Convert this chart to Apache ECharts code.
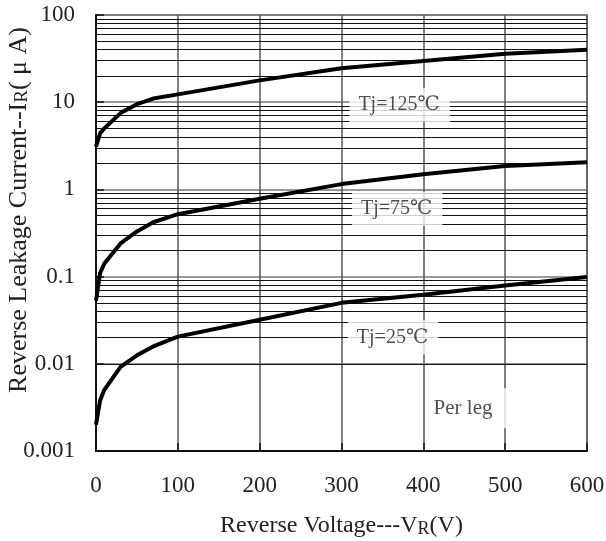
<!DOCTYPE html>
<html>
<head>
<meta charset="utf-8">
<script src="https://cdn.jsdelivr.net/npm/echarts@6/dist/echarts.min.js"></script>
<style>
html,body{margin:0;padding:0;background:#fff;}
#c{width:606px;height:541px;}
</style>
</head>
<body>
<div id="c"></div>
<script>
// Reverse voltage (V)
const voltage = [0, 5, 10, 30, 50, 70, 100, 200, 300, 400, 500, 600];
// Reverse leakage current (uA)
const tj125 = [3.1, 4.4, 5.0, 7.5, 9.5, 11.0, 12.3, 17.8, 24.5, 29.7, 36, 40];
const tj75  = [0.053, 0.11, 0.14, 0.24, 0.33, 0.42, 0.52, 0.78, 1.15, 1.49, 1.86, 2.05];
const tj25  = [0.002, 0.0038, 0.005, 0.0092, 0.0125, 0.0158, 0.0205, 0.032, 0.050, 0.062, 0.079, 0.099];
const xTicks = [0, 100, 200, 300, 400, 500, 600];
const yTicks = [0.001, 0.01, 0.1, 1, 10, 100];
// minor gridline values inside each decade
const minorMult = [2, 3, 4, 5, 6, 7, 8, 9];
// annotation texts and anchor (voltage, current)
const notes = [
  {text: 'Tj=125\u2103', v: 371, i: 9.3},
  {text: 'Tj=75\u2103', v: 368, i: 0.6},
  {text: 'Tj=25\u2103', v: 363, i: 0.0201},
  {text: 'Per leg', v: 462, i: 0.0031}
];

const font = '"Liberation Serif","DejaVu Serif",serif';
const minorVals = [];
for (let d = 0; d < yTicks.length - 1; d++) {
  minorMult.forEach(m => minorVals.push(+(yTicks[d] * m).toPrecision(3)));
}
const pair = arr => voltage.map((v, k) => [v, arr[k]]);
const curveStyle = {color: '#000', width: 4};

const chart = echarts.init(document.getElementById('c'));
chart.setOption({
  animation: false,
  grid: {left: 96, right: 19, top: 15, bottom: 90, containLabel: false, outerBoundsMode: 'none',
    show: true, borderColor: '#999', borderWidth: 2},
  xAxis: {
    type: 'value', min: 0, max: 600, interval: 100,
    name: 'Reverse Voltage---V{s|R}(V)', nameLocation: 'middle', nameGap: 62, nameMoveOverlap: false,
    nameTextStyle: {fontFamily: font, fontSize: 24, color: '#222',
      rich: {s: {fontFamily: font, fontSize: 18, color: '#222', padding: [7, 0, 0, 0]}}},
    axisLine: {show: true, lineStyle: {color: '#111', width: 2}},
    axisTick: {show: true, inside: true, length: 8, lineStyle: {color: '#111', width: 1.5}},
    axisLabel: {fontFamily: font, fontSize: 23, color: '#222', margin: 23},
    splitLine: {show: true, lineStyle: {color: '#555', width: 1.5}}
  },
  yAxis: {
    type: 'log', logBase: 10, min: 0.001, max: 100,
    name: 'Reverse Leakage Current--I{s|R}( \u03bc A)', nameLocation: 'middle', nameGap: 64,
    nameMoveOverlap: false,
    nameTextStyle: {fontFamily: font, fontSize: 26, color: '#222', padding: [0, 0, 0, 46],
      rich: {s: {fontFamily: font, fontSize: 19, color: '#222', padding: [7, 0, 0, 0]}}},
    axisLine: {show: true, lineStyle: {color: '#111', width: 2}},
    axisTick: {show: true, inside: true, length: 8, lineStyle: {color: '#111', width: 1.5}},
    axisLabel: {fontFamily: font, fontSize: 23, color: '#222', margin: 21,
      formatter: v => String(+v.toPrecision(3))},
    splitLine: {show: true, lineStyle: {color: '#777', width: 1.5}}
  },
  series: [
    {
      type: 'line', data: [], silent: true,
      markLine: {
        silent: true, symbol: 'none', label: {show: false},
        lineStyle: {color: '#111', width: 1.2, type: 'solid'},
        data: minorVals.map(v => ({yAxis: v}))
      }
    },
    {type: 'line', data: pair(tj125), symbol: 'none', lineStyle: curveStyle, z: 5},
    {type: 'line', data: pair(tj75), symbol: 'none', lineStyle: curveStyle, z: 5},
    {type: 'line', data: pair(tj25), symbol: 'none', lineStyle: curveStyle, z: 5},
    {
      type: 'scatter', symbolSize: 0, z: 10, silent: true,
      data: notes.map((n, k) => ({value: [n.v, n.i],
        label: k === 3 ? {formatter: n.text, fontSize: 21, padding: [10, 28, 9, 6]} : {formatter: n.text}})),
      label: {show: true, position: 'inside', fontFamily: font, fontSize: 20, color: '#222',
        backgroundColor: '#fff', padding: [7, 10, 7, 9]}
    }
  ]
});
</script>
</body>
</html>
